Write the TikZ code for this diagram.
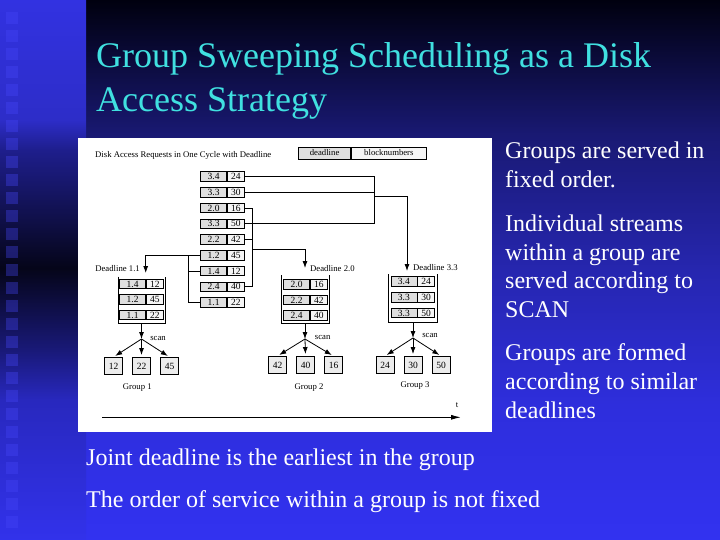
\documentclass[tikz,border=0pt]{standalone}
\usepackage{fontspec}
\setmainfont{Liberation Serif}
\usetikzlibrary{arrows.meta}
\definecolor{titlecyan}{RGB}{64,224,224}
\definecolor{mA}{RGB}{50,50,240}
\definecolor{mB}{RGB}{46,46,220}
\definecolor{mC}{RGB}{38,38,175}
\definecolor{mD}{RGB}{25,25,115}
\definecolor{mE}{RGB}{0,0,15}
\definecolor{sA}{RGB}{50,50,235}
\definecolor{sB}{RGB}{40,40,190}
\definecolor{sC}{RGB}{25,25,120}
\definecolor{sD}{RGB}{5,5,25}
\definecolor{sE}{RGB}{30,30,140}
\definecolor{sF}{RGB}{45,45,200}
\definecolor{sG}{RGB}{50,50,225}
\definecolor{sqcol}{RGB}{70,70,250}
\pgfdeclareverticalshading{mainbg}{100bp}{color(0bp)=(mA); color(25bp)=(mA); color(37.5bp)=(mB); color(50bp)=(mC); color(62.5bp)=(mD); color(75bp)=(mE); color(100bp)=(mE)}
\pgfdeclareverticalshading{stripbg}{100bp}{color(0bp)=(sA); color(25bp)=(sA); color(37.96bp)=(sB); color(42.59bp)=(sC); color(50.19bp)=(sD); color(61.11bp)=(sE); color(63.89bp)=(sF); color(75bp)=(sG); color(100bp)=(sG)}
\newcommand\dgfont{\fontsize{8.7}{10}\selectfont}
\newcommand\dgcellfont{\fontsize{9.5}{10}\selectfont}
\newcommand\reqcell[5]{\node[dlcell,anchor=east] (#1d) at (#2,#3) {#4};\node[bncell,anchor=west] (#1b) at (#2,#3) {#5};}
\begin{document}
\begin{tikzpicture}[x=1pt,y=-1pt,
  dlcell/.style={draw=black, line width=0.75pt, fill=gray!25, minimum width=26pt, minimum height=9.5pt, inner sep=0pt, font=\dgcellfont},
  bncell/.style={draw=black, line width=0.75pt, fill=gray!8, minimum width=17pt, minimum height=9.5pt, inner sep=0pt, font=\dgcellfont},
  resbox/.style={draw=black, line width=0.9pt, fill=gray!15, minimum width=18pt, minimum height=17pt, inner sep=0pt, font=\dgcellfont},
  conn/.style={draw=black, line width=0.8pt},
  arr/.style={-{Latex[length=7pt,width=5pt]}},
  cont/.style={draw=black, line width=0.8pt},
  lbl/.style={font=\dgfont, inner sep=0pt},
  body/.style={font=\fontsize{24}{29}\selectfont, text=white, inner sep=0pt, anchor=base west},
  ttl/.style={font=\fontsize{36}{44}\selectfont, text=titlecyan, inner sep=0pt, anchor=base west}]
\useasboundingbox (0,0) rectangle (720,540);
% background
\shade[shading=mainbg] (86,0) rectangle (720,540);
\shade[shading=stripbg] (0,0) rectangle (86,540);
\foreach \k in {0,...,28} \fill[sqcol, opacity=0.35] (6,12+18*\k) rectangle (18,24+18*\k);
% title
\node[ttl] (title1) at (96,68) {Group Sweeping Scheduling as a Disk};
\node[ttl] (title2) at (96,112) {Access Strategy};
% right text
\node[body] (p1a) at (505,159) {Groups are served in};
\node[body] (p1b) at (505,188) {fixed order.};
\node[body] (p2a) at (505,231) {Individual streams};
\node[body] (p2b) at (505,260) {within a group are};
\node[body] (p2c) at (505,288) {served according to};
\node[body] (p2d) at (505,317) {SCAN};
\node[body] (p3a) at (505,360) {Groups are formed};
\node[body] (p3b) at (505,389) {according to similar};
\node[body] (p3c) at (505,418) {deadlines};
\node[body] (q1) at (86,465) {Joint deadline is the earliest in the group};
\node[body] (q2) at (86,507) {The order of service within a group is not fixed};
% diagram panel
\fill[white] (78,138) rectangle (492,432);
\node[lbl, anchor=west] (dtitle) at (95,155) {Disk Access Requests in One Cycle with Deadline};
\node[dlcell, anchor=east, minimum width=52pt, minimum height=12pt, font=\dgfont] (legd) at (351,153) {deadline};
\node[bncell, anchor=west, minimum width=75pt, minimum height=12pt, font=\dgfont] (legb) at (351,153) {blocknumbers};
% request column
\reqcell{r1}{227}{176.5}{3.4}{24}
\reqcell{r2}{227}{192.25}{3.3}{30}
\reqcell{r3}{227}{208}{2.0}{16}
\reqcell{r4}{227}{223.75}{3.3}{50}
\reqcell{r5}{227}{239.5}{2.2}{42}
\reqcell{r6}{227}{255.25}{1.2}{45}
\reqcell{r7}{227}{271}{1.4}{12}
\reqcell{r8}{227}{286.75}{2.4}{40}
\reqcell{r9}{227}{302.5}{1.1}{22}
% group 3 bracket
\coordinate (k3a) at (374,176.5);
\coordinate (k3b) at (374,223.75);
\coordinate (k3j) at (374,196);
\coordinate (k3c) at (407,196);
\coordinate (a3tip) at (407,271);
\draw[conn] (r1b.east) -- (k3a) -- (k3b) -- (r4b.east);
\draw[conn] (r2b.east) -- (r2b.east -| k3a);
\draw[conn,arr] (k3j) -- (k3c) -- (a3tip);
% group 2 bracket
\coordinate (k2a) at (252.7,208);
\coordinate (k2b) at (252.7,286.75);
\coordinate (k2j) at (252.7,249.3);
\coordinate (k2c) at (305,249.3);
\coordinate (a2tip) at (305,268);
\draw[conn] (r3b.east) -- (k2a) -- (k2b) -- (r8b.east);
\draw[conn] (r5b.east) -- (r5b.east -| k2a);
\draw[conn,arr] (k2j) -- (k2c) -- (a2tip);
% group 1 bracket
\coordinate (k1a) at (188,255.25);
\coordinate (k1b) at (188,302.5);
\coordinate (k1c) at (145.7,255.25);
\coordinate (a1tip) at (145.7,273);
\draw[conn,arr] (r6d.west) -- (k1c) -- (a1tip);
\draw[conn] (k1a) -- (k1b) -- (r9d.west);
\draw[conn] (r7d.west) -- (r7d.west -| k1a);
% deadline labels
\node[lbl, anchor=east] (dl1) at (140,269) {Deadline 1.1};
\node[lbl, anchor=west] (dl2) at (310,268.3) {Deadline 2.0};
\node[lbl, anchor=west] (dl3) at (413,267.3) {Deadline 3.3};
% containers
\draw[cont] (118,276.5) -- (118,323.5) -- (165.7,323.5) -- (165.7,276.5);
\draw[cont] (281,275) -- (281,323.3) -- (329.3,323.3) -- (329.3,275);
\draw[cont] (388.3,274.3) -- (388.3,322.3) -- (437.5,322.3) -- (437.5,274.3);
\reqcell{c1a}{146}{284}{1.4}{12}
\reqcell{c1b}{146}{299.5}{1.2}{45}
\reqcell{c1c}{146}{315}{1.1}{22}
\reqcell{c2a}{310}{284.2}{2.0}{16}
\reqcell{c2b}{310}{300}{2.2}{42}
\reqcell{c2c}{310}{315.6}{2.4}{40}
\reqcell{c3a}{417.3}{281.5}{3.4}{24}
\reqcell{c3b}{417.3}{297.5}{3.3}{30}
\reqcell{c3c}{417.3}{313}{3.3}{50}
% scan fans
\coordinate (s1) at (141.5,323.5);
\coordinate (f1) at (141.5,339);
\coordinate (s2) at (305,323.3);
\coordinate (f2) at (305,339);
\coordinate (s3) at (413,322.3);
\coordinate (f3) at (413,338);
\node[resbox] (g1a) at (113.5,366) {12};
\node[resbox] (g1b) at (141.5,366) {22};
\node[resbox] (g1c) at (169.5,366) {45};
\node[resbox] (g2a) at (277.5,365) {42};
\node[resbox] (g2b) at (305.5,365) {40};
\node[resbox] (g2c) at (333.5,365) {16};
\node[resbox] (g3a) at (385,365) {24};
\node[resbox] (g3b) at (413,365) {30};
\node[resbox] (g3c) at (441,365) {50};
\foreach \g in {1,2,3}{
  \draw[conn,arr] (s\g) -- (f\g);
  \draw[conn,arr,shorten >=2pt] (f\g) -- (g\g a.north);
  \draw[conn,arr,shorten >=2pt] (f\g) -- (g\g b.north);
  \draw[conn,arr,shorten >=2pt] (f\g) -- (g\g c.north);
}
\node[lbl] (sc1) at (158,338) {scan};
\node[lbl] (sc2) at (322.7,337.3) {scan};
\node[lbl] (sc3) at (430,335) {scan};
\node[lbl] (gl1) at (137.3,387.7) {Group 1};
\node[lbl] (gl2) at (309,387.3) {Group 2};
\node[lbl] (gl3) at (415,386) {Group 3};
% time axis
\coordinate (t0) at (102,417.3);
\coordinate (t1) at (461,417.3);
\draw[line width=1pt, -{Latex[length=10pt,width=5pt]}] (t0) -- (t1);
\node[lbl] (tlab) at (457,405) {t};
\end{tikzpicture}
\end{document}
